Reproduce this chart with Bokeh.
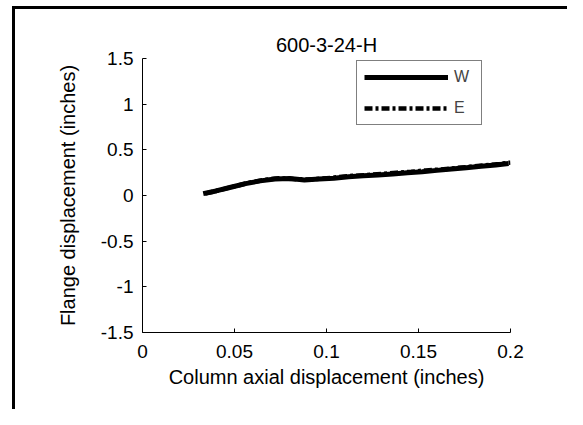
from bokeh.plotting import figure
from bokeh.models import Range1d, Legend, LegendItem, FixedTicker, Spacer, LinearAxis
from bokeh.layouts import row, column
from bokeh.embed import file_html
from bokeh.resources import INLINE

# data
w_x = [0.033, 0.040, 0.048, 0.056, 0.064, 0.072, 0.080, 0.088, 0.096, 0.104, 0.112,
       0.120, 0.128, 0.136, 0.144, 0.152, 0.160, 0.168, 0.176, 0.184, 0.192, 0.199]
w_y = [0.02, 0.05, 0.09, 0.13, 0.16, 0.18, 0.185, 0.17, 0.18, 0.19, 0.205,
       0.215, 0.225, 0.235, 0.25, 0.26, 0.275, 0.29, 0.305, 0.32, 0.335, 0.35]
e_x = [0.034, 0.042, 0.050, 0.058, 0.066, 0.074, 0.082, 0.090, 0.098, 0.106, 0.114,
       0.122, 0.130, 0.138, 0.146, 0.154, 0.162, 0.170, 0.178, 0.186, 0.194, 0.200]
e_y = [0.02, 0.06, 0.10, 0.14, 0.17, 0.19, 0.18, 0.175, 0.185, 0.20, 0.215,
       0.225, 0.235, 0.25, 0.26, 0.275, 0.285, 0.30, 0.315, 0.33, 0.345, 0.36]

x_ticks = [0, 0.05, 0.1, 0.15, 0.2]
y_ticks = [-1.5, -1, -0.5, 0, 0.5, 1, 1.5]

FONT = "Liberation Sans"

p = figure(width=552, height=400, output_backend="svg", toolbar_location=None,
           x_range=Range1d(0, 0.2), y_range=Range1d(-1.5, 1.5),
           title="600-3-24-H",
           min_border_left=127, min_border_right=57, min_border_top=49, min_border_bottom=77)
p.outline_line_color = None
p.grid.visible = False
p.background_fill_color = "white"
p.border_fill_color = "white"

p.title.align = "center"
p.title.text_font = FONT
p.title.text_font_size = "20px"
p.title.text_font_style = "normal"
p.title.text_color = "black"
p.title.standoff = 6

xax = p.below[0]
yax = p.left[0]

# blank spacer axis above the frame (keeps the title clear of the plot box)
gap_axis = LinearAxis(ticker=FixedTicker(ticks=[]), major_tick_out=15, major_tick_in=0,
                      axis_line_color=None, major_tick_line_color="white",
                      minor_tick_line_color=None, major_label_standoff=0)
p.add_layout(gap_axis, "above")

for ax, ticks in ((xax, x_ticks), (yax, y_ticks)):
    ax.ticker = FixedTicker(ticks=ticks)
    ax.major_tick_in = 4
    ax.major_tick_out = 0
    ax.minor_tick_line_color = None
    ax.axis_line_color = "black"
    ax.major_tick_line_color = "black"
    ax.major_label_text_font = FONT
    ax.major_label_text_font_size = "19px"
    ax.major_label_text_color = "black"
    ax.axis_label_text_font = FONT
    ax.axis_label_text_font_size = "20px"
    ax.axis_label_text_font_style = "normal"
    ax.axis_label_text_color = "black"

xax.major_label_overrides = {0: "0", 0.05: "0.05", 0.1: "0.1", 0.15: "0.15", 0.2: "0.2"}
yax.major_label_overrides = {-1.5: "-1.5", -1: "-1", -0.5: "-0.5", 0: "0", 0.5: "0.5", 1: "1", 1.5: "1.5"}
xax.axis_label = "Column axial displacement (inches)"
yax.axis_label = "Flange displacement (inches)"
xax.major_label_standoff = 12
xax.axis_label_standoff = 5
yax.major_label_standoff = 9
yax.axis_label_standoff = 19

rw = p.line(w_x, w_y, line_color="black", line_width=5)
re = p.line(e_x, e_y, line_color="black", line_width=4.5, line_dash="8 3 3 3")

legend = Legend(items=[LegendItem(label="W", renderers=[rw]), LegendItem(label="E", renderers=[re])],
                location=(214, 207), orientation="vertical",
                glyph_width=84, glyph_height=16, spacing=13, padding=7, margin=0,
                label_standoff=6, label_text_font=FONT, label_text_font_size="16px",
                border_line_color="black", border_line_width=1,
                background_fill_color="white", background_fill_alpha=1)
p.add_layout(legend, "center")

# page frame lines of the scanned figure
top_gap = Spacer(width=567, height=6)
left_gap = Spacer(width=12, height=403)
left_rule = Spacer(width=3, height=403, background="black")
top_rule = Spacer(width=552, height=3, background="black")
layout = column(top_gap, row(left_gap, left_rule, column(top_rule, p)))

open("out.html", "w").write(file_html(layout, INLINE))
